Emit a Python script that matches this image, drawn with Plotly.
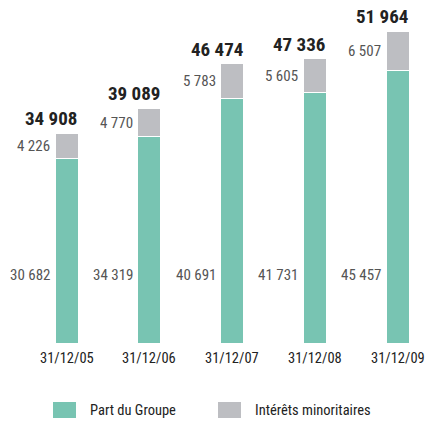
import plotly.graph_objects as go

dates = ["31/12/05", "31/12/06", "31/12/07", "31/12/08", "31/12/09"]
part_groupe = [30682, 34319, 40691, 41731, 45457]
minoritaires = [4226, 4770, 5783, 5605, 6507]
totaux = [34908, 39089, 46474, 47336, 51964]

green = "#78c4b2"
grey = "#bdbec2"
font = "Liberation Sans Narrow, Roboto Condensed, Arial Narrow, Roboto, sans-serif"


def fmt(v):
    return f"{v:,}".replace(",", " ")


xs = list(range(len(dates)))
w = 0.278

fig = go.Figure()
fig.add_trace(go.Bar(x=xs, y=part_groupe, width=w, marker_color=green,
                     marker_line=dict(color="white", width=1), name="Part du Groupe"))
fig.add_trace(go.Bar(x=xs, y=minoritaires, width=w, marker_color=grey,
                     marker_line=dict(color="white", width=1), name="Intérêts minoritaires"))

ann = []
for i in xs:
    # part du groupe, fixed height left of the bar
    ann.append(dict(x=i - w / 2, y=11300, text=fmt(part_groupe[i]), xanchor="right",
                    yanchor="middle", xshift=-3, showarrow=False,
                    font=dict(family=font, size=15, color="#555555")))
    # minoritaires, middle of grey block
    ann.append(dict(x=i - w / 2, y=part_groupe[i] + minoritaires[i] / 2, text=fmt(minoritaires[i]),
                    xanchor="right", yanchor="middle", xshift=-3, showarrow=False,
                    font=dict(family=font, size=15, color="#555555")))
    # total on top
    ann.append(dict(x=i + w / 2, y=totaux[i], text="<b>" + fmt(totaux[i]) + "</b>",
                    xanchor="right", yanchor="bottom", xshift=1, yshift=1, showarrow=False,
                    font=dict(family=font, size=19, color="#222222")))
    # date under the bar
    ann.append(dict(x=i, xref="x", yref="paper", y=(343 - 358) / 343, text=dates[i],
                    xanchor="center", yanchor="middle", showarrow=False,
                    font=dict(family=font, size=14.5, color="#222222")))

# legend drawn by hand
legend = [("Part du Groupe", green, 53), ("Intérêts minoritaires", grey, 218)]
shapes = []
for label, col, px0 in legend:
    shapes.append(dict(type="rect", xref="paper", yref="paper",
                       x0=px0 / 425, x1=(px0 + 23) / 425,
                       y0=(343 - 418) / 343, y1=(343 - 402) / 343,
                       fillcolor=col, line=dict(width=0)))
    ann.append(dict(xref="paper", yref="paper", x=(px0 + 35) / 425, y=(343 - 410) / 343,
                    text=label, xanchor="left", yanchor="middle", showarrow=False,
                    font=dict(family=font, size=14.5, color="#222222")))

fig.update_layout(
    barmode="stack",
    width=425, height=421,
    margin=dict(l=0, r=0, t=0, b=78),
    paper_bgcolor="white", plot_bgcolor="white",
    showlegend=False,
    annotations=ann,
    shapes=shapes,
    xaxis=dict(range=[-0.8036, 4.332], visible=False, fixedrange=True),
    yaxis=dict(range=[0, 57130], visible=False, fixedrange=True),
)

fig.write_html("out.html", config={"displayModeBar": False},
               post_script="document.body.style.margin='0';")
